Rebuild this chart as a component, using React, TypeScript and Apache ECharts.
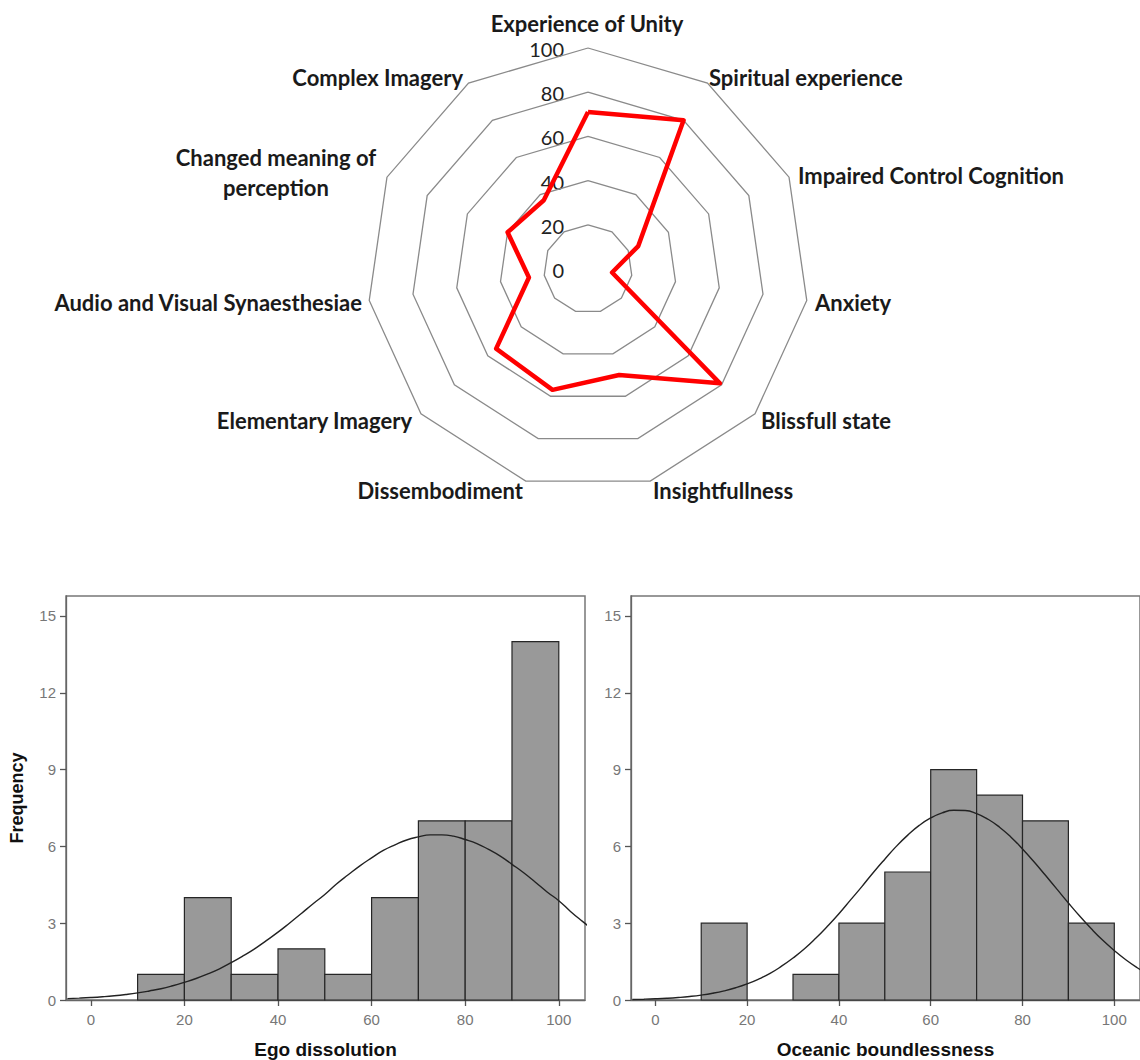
import React, { useEffect, useRef } from "react";
import * as echarts from "echarts";

// ---- Radar data (clockwise from the top) ----
const radarAxes = [
  "Experience of Unity",
  "Spiritual experience",
  "Impaired Control Cognition",
  "Anxiety",
  "Blissfull state",
  "Insightfullness",
  "Dissembodiment",
  "Elementary Imagery",
  "Audio and Visual Synaesthesiae",
  "Changed meaning of\nperception",
  "Complex Imagery",
];
const radarValues = [71, 80, 25, 11, 79, 50, 57, 55, 27, 40, 37];
const radarTicks = [0, 20, 40, 60, 80, 100];

// ---- Histogram data ----
const binStarts = [10, 20, 30, 40, 50, 60, 70, 80, 90];
const binWidth = 10;
const egoCounts = [1, 4, 1, 2, 1, 4, 7, 7, 14];
const oceanicCounts = [3, 0, 1, 3, 5, 9, 8, 7, 3];

// fitted normal curves (x every 2.5)
const curveX = [
  -5, -2.5, 0, 2.5, 5, 7.5, 10, 12.5, 15, 17.5, 20, 22.5, 25, 27.5, 30, 32.5, 35, 37.5, 40, 42.5, 45, 47.5,
  50, 52.5, 55, 57.5, 60, 62.5, 65, 67.5, 70, 72.5, 75, 77.5, 80, 82.5, 85, 87.5, 90, 92.5, 95, 97.5, 100,
  102.5, 105, 107.5,
];
const egoCurve = [
  0.053, 0.072, 0.096, 0.127, 0.166, 0.216, 0.277, 0.353, 0.44, 0.555, 0.69, 0.84, 1.02, 1.22, 1.46, 1.72,
  2.0, 2.32, 2.65, 3.01, 3.38, 3.76, 4.12, 4.53, 4.89, 5.24, 5.55, 5.84, 6.06, 6.25, 6.37, 6.45, 6.45, 6.4,
  6.27, 6.11, 5.88, 5.62, 5.3, 4.97, 4.6, 4.22, 3.88, 3.46, 3.08, 2.72,
];
const oceanicCurve = [
  0.021, 0.031, 0.046, 0.067, 0.097, 0.137, 0.191, 0.263, 0.357, 0.477, 0.628, 0.816, 1.04, 1.32, 1.64, 2.0,
  2.42, 2.88, 3.37, 3.9, 4.43, 4.98, 5.5, 6.0, 6.44, 6.82, 7.11, 7.31, 7.41, 7.4, 7.28, 7.06, 6.75, 6.36,
  5.9, 5.4, 4.87, 4.33, 3.79, 3.27, 2.78, 2.33, 1.93, 1.57, 1.26, 0.99,
];

const xTicks = [0, 20, 40, 60, 80, 100];
const yTicks = [0, 3, 6, 9, 12, 15];

// ---- layout (positions only) ----
const radarCenter = [588, 269];
const radarRadius = 221;
const radarLabelLayout: [number, number, string][] = [
  [587, 23, "center"],
  [709, 77, "left"],
  [798, 175, "left"],
  [815, 302, "left"],
  [761, 420, "left"],
  [653, 490, "left"],
  [523, 490, "right"],
  [412, 420, "right"],
  [362, 302, "right"],
  [276, 172, "center"],
  [463, 77, "right"],
];

export default function App() {
  const ref = useRef<HTMLDivElement>(null);
  useEffect(() => {
    document.body.style.margin = "0";
    const chart = echarts.init(ref.current!, null, { renderer: "svg" });

    // ECharts radar runs counter-clockwise: reorder so the picture runs clockwise
    const order = [0, ...radarAxes.map((_, i) => i).slice(1).reverse()];

    const histRender = (params: any, api: any) => {
      const x0 = api.value(0);
      const x1 = api.value(1);
      const c = api.value(2);
      if (!c) return null;
      const p0 = api.coord([x0, c]);
      const p1 = api.coord([x1, 0]);
      return {
        type: "rect",
        shape: { x: p0[0], y: p0[1], width: p1[0] - p0[0], height: p1[1] - p0[1] },
        style: { fill: "#999999", stroke: "#262626", lineWidth: 1.2 },
      };
    };

    const xAxisBase = (name: string, gridIndex: number) => ({
      type: "value",
      gridIndex,
      min: -5.3,
      max: 105.6,
      name,
      nameLocation: "middle",
      nameGap: 40,
      nameTextStyle: { fontFamily: "Liberation Sans", fontWeight: "bold", fontSize: 19, color: "#111" },
      splitLine: { show: false },
      axisLine: { show: true, onZero: false, lineStyle: { color: "#666", width: 1.3 } },
      axisTick: { show: true, customValues: xTicks, length: 6, lineStyle: { color: "#555", width: 1.3 } },
      axisLabel: { customValues: xTicks, color: "#777", fontSize: 15, fontFamily: "Liberation Sans", margin: 12 },
    });
    const yAxisBase = (gridIndex: number, name: string) => ({
      type: "value",
      gridIndex,
      min: 0,
      max: 15.78,
      name,
      nameLocation: "middle",
      nameGap: 40,
      nameTextStyle: { fontFamily: "Liberation Sans", fontWeight: "bold", fontSize: 18, color: "#111" },
      splitLine: { show: false },
      axisLine: { show: true, onZero: false, lineStyle: { color: "#666", width: 1.3 } },
      axisTick: { show: true, customValues: yTicks, length: 6, lineStyle: { color: "#555", width: 1.3 } },
      axisLabel: { customValues: yTicks, color: "#777", fontSize: 15, fontFamily: "Liberation Sans", margin: 10 },
    });

    const graphicTexts: any[] = radarAxes.map((name, i) => ({
      type: "text",
      x: radarLabelLayout[i][0],
      y: radarLabelLayout[i][1],
      style: {
        text: name,
        fill: "#1a1a1a",
        font: "bold 22px Lato",
        align: radarLabelLayout[i][2],
        verticalAlign: "middle",
        lineHeight: 30,
      },
    }));
    radarTicks.forEach((v) => {
      graphicTexts.push({
        type: "text",
        x: radarCenter[0] - 24,
        y: radarCenter[1] - (radarRadius * v) / 100 + 1,
        style: {
          text: String(v),
          fill: "#222",
          font: "20px Lato",
          align: "right",
          verticalAlign: "middle",
        },
      });
    });

    chart.setOption({
      animation: false,
      backgroundColor: "#ffffff",
      radar: {
        center: radarCenter,
        radius: radarRadius,
        startAngle: 90,
        shape: "polygon",
        splitNumber: 5,
        indicator: order.map((i) => ({ name: radarAxes[i], min: 0, max: 100 })),
        axisName: { show: false },
        axisLine: { show: false },
        axisTick: { show: false },
        axisLabel: { show: false },
        splitArea: { show: false },
        splitLine: { lineStyle: { color: "#8a8a8a", width: 1.3 } },
      },
      grid: [
        { left: 66, top: 596, width: 519, height: 404, show: true, borderColor: "#777", borderWidth: 1.5, backgroundColor: "#fff" },
        { left: 631, top: 596, width: 519, height: 404, show: true, borderColor: "#777", borderWidth: 1.5, backgroundColor: "#fff" },
      ],
      xAxis: [xAxisBase("Ego dissolution", 0), xAxisBase("Oceanic boundlessness", 1)],
      yAxis: [yAxisBase(0, "Frequency"), yAxisBase(1, "")],
      graphic: graphicTexts,
      series: [
        {
          type: "radar",
          symbol: "none",
          lineStyle: { color: "#ff0000", width: 4.5 },
          data: [{ value: order.map((i) => radarValues[i]) }],
        },
        {
          type: "custom",
          xAxisIndex: 0,
          yAxisIndex: 0,
          renderItem: histRender,
          encode: { x: [0, 1], y: 2 },
          data: binStarts.map((s, i) => [s, s + binWidth, egoCounts[i]]),
          z: 2,
        },
        {
          type: "custom",
          xAxisIndex: 1,
          yAxisIndex: 1,
          renderItem: histRender,
          encode: { x: [0, 1], y: 2 },
          data: binStarts.map((s, i) => [s, s + binWidth, oceanicCounts[i]]),
          z: 2,
        },
        {
          type: "line",
          xAxisIndex: 0,
          yAxisIndex: 0,
          smooth: true,
          symbol: "none",
          clip: true,
          lineStyle: { color: "#222", width: 1.4 },
          data: curveX.map((x, i) => [x, egoCurve[i]]),
          z: 3,
        },
        {
          type: "line",
          xAxisIndex: 1,
          yAxisIndex: 1,
          smooth: true,
          symbol: "none",
          clip: true,
          lineStyle: { color: "#222", width: 1.4 },
          data: curveX.map((x, i) => [x, oceanicCurve[i]]),
          z: 3,
        },
      ],
    });
    return () => chart.dispose();
  }, []);
  return <div ref={ref} style={{ width: 1140, height: 1060 }} />;
}
